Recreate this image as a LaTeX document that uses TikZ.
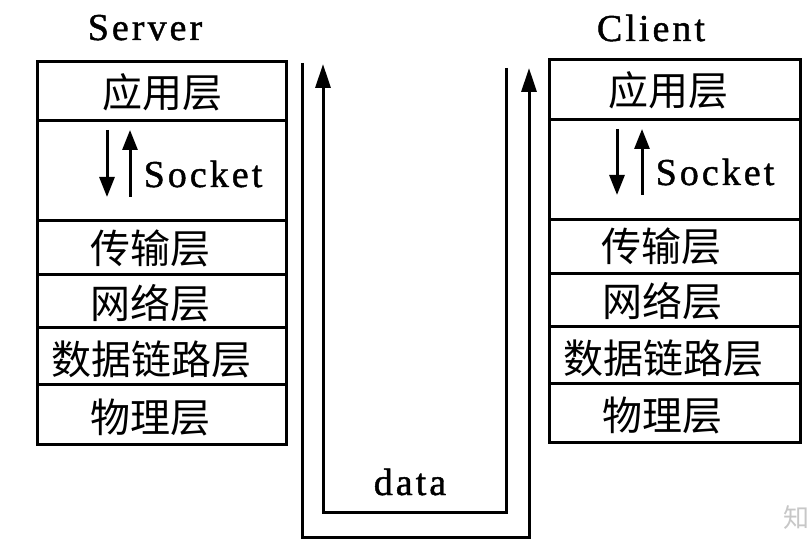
\documentclass[tikz,border=0pt]{standalone}
\usepackage{fontspec}
\usetikzlibrary{arrows.meta}
\setmainfont{Liberation Serif}
\newfontfamily\cjk{Noto Sans CJK SC}
\newfontfamily\latsp[LetterSpace=8,FakeBold=1.2]{Liberation Serif}
\tikzset{
  layer/.style={draw, line width=3pt, minimum width=249pt, inner sep=0pt, outer sep=0pt, anchor=north west},
  rlayer/.style={layer, minimum width=251pt},
  zh/.style={inner sep=0pt, font=\cjk\fontsize{40}{40}\selectfont},
  en/.style={inner sep=0pt, anchor=base, font=\latsp\fontsize{38}{38}\selectfont},
  uline/.style={line width=3pt, line join=miter},
  bigtip/.style={-{Triangle[length=24pt,width=15pt]}},
  smalltip/.style={-{Triangle[length=20pt,width=15pt]}},
}
\begin{document}
\begin{tikzpicture}[x=1pt,y=-1pt]
\useasboundingbox (0,0) rectangle (811,545);
% ---- Server stack ----
\node[layer, minimum height=59pt]  (sApp)  at (37,62)  {};
\node[layer, minimum height=100pt] (sSock) at (37,121) {};
\node[layer, minimum height=54pt]  (sTr)   at (37,221) {};
\node[layer, minimum height=52pt]  (sNet)  at (37,275) {};
\node[layer, minimum height=57pt]  (sDl)   at (37,327) {};
\node[layer, minimum height=60pt]  (sPhy)  at (37,384) {};
\node[en] (sTitle) at (145,40) {Server};
\node[zh] (sAppT) at (162,92)  {应用层};
\node[zh] (sTrT)  at (150,248) {传输层};
\node[zh] (sNetT) at (150,303) {网络层};
\node[zh] (sDlT)  at (151,359) {数据链路层};
\node[zh] (sPhyT) at (150,417) {物理层};
\node[en] (sSockT) at (203,187) {Socket};
\coordinate (sd1) at (107,130);
\coordinate (sd2) at (107,197);
\coordinate (su1) at (130,197);
\coordinate (su2) at (130,130);
\draw[uline, smalltip] (sd1) -- (sd2);
\draw[uline, smalltip] (su1) -- (su2);
% ---- Client stack ----
\node[rlayer, minimum height=60pt]  (cApp)  at (549,60)  {};
\node[rlayer, minimum height=100pt] (cSock) at (549,120) {};
\node[rlayer, minimum height=54pt]  (cTr)   at (549,220) {};
\node[rlayer, minimum height=52pt]  (cNet)  at (549,274) {};
\node[rlayer, minimum height=57pt]  (cDl)   at (549,326) {};
\node[rlayer, minimum height=59pt]  (cPhy)  at (549,383) {};
\node[en] (cTitle) at (651,41) {Client};
\node[zh] (cAppT) at (668,90)  {应用层};
\node[zh] (cTrT)  at (661,246) {传输层};
\node[zh] (cNetT) at (662,301) {网络层};
\node[zh] (cDlT)  at (663,358) {数据链路层};
\node[zh] (cPhyT) at (662,415) {物理层};
\node[en] (cSockT) at (715,185) {Socket};
\coordinate (cd1) at (617,129);
\coordinate (cd2) at (617,195);
\coordinate (cu1) at (642,195);
\coordinate (cu2) at (642,129);
\draw[uline, smalltip] (cd1) -- (cd2);
\draw[uline, smalltip] (cu1) -- (cu2);
% ---- data channel ----
\coordinate (oL)  at (302,63);
\coordinate (oBL) at (302,537);
\coordinate (oBR) at (529,537);
\coordinate (oR)  at (529,68);
\draw[uline, bigtip] (oL) -- (oBL) -- (oBR) -- (oR);
\coordinate (iR)  at (506,68);
\coordinate (iBR) at (506,512);
\coordinate (iBL) at (323,512);
\coordinate (iL)  at (323,64);
\draw[uline, bigtip] (iR) -- (iBR) -- (iBL) -- (iL);
\node[en] (dataT) at (410,495) {data};
% ---- watermark ----
\node[inner sep=0pt, anchor=east, text=black!22, font=\cjk\fontsize{26}{26}\selectfont] (wm) at (810,518) {知};
\end{tikzpicture}
\end{document}
